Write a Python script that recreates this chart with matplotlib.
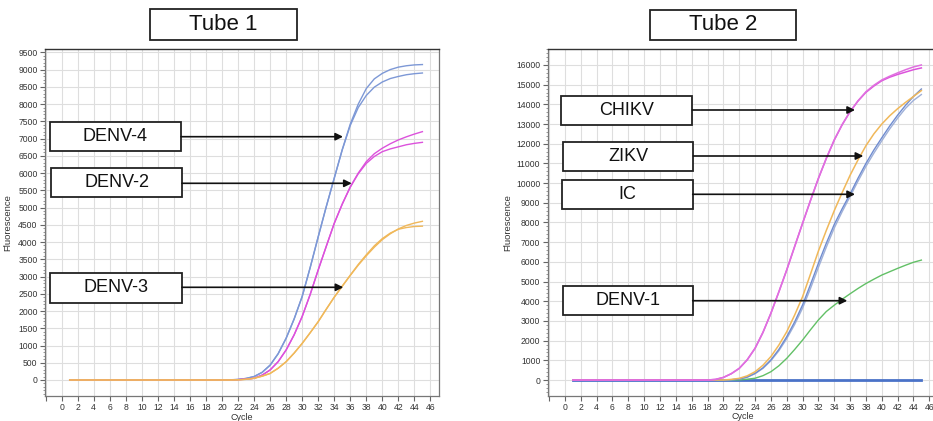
import matplotlib
matplotlib.use("Agg")
import matplotlib.pyplot as plt
from matplotlib.patches import Rectangle, FancyArrowPatch
from matplotlib.ticker import MultipleLocator, FixedLocator, FixedFormatter

plt.rcParams['font.family'] = ['Liberation Sans', 'DejaVu Sans']

cycles = list(range(1, 46))

# ---- Tube 1 ----
denv4_a = [0]*20 + [5, 15, 45, 100, 220, 430, 760, 1210, 1770, 2420, 3260, 4150, 5020, 5850, 6680,
                    7420, 8000, 8450, 8730, 8890, 9000, 9070, 9110, 9135, 9145]
denv4_b = [0]*20 + [5, 15, 45, 100, 220, 430, 760, 1210, 1770, 2420, 3260, 4150, 5020, 5850, 6670,
                    7380, 7900, 8250, 8490, 8640, 8740, 8800, 8850, 8880, 8900]
denv2_a = [0]*20 + [3, 10, 25, 50, 140, 290, 530, 870, 1310, 1840, 2480, 3190, 3870, 4540, 5100,
                    5600, 6000, 6330, 6560, 6720, 6850, 6960, 7050, 7130, 7200]
denv2_b = [0]*20 + [3, 10, 25, 50, 140, 290, 530, 870, 1310, 1840, 2480, 3190, 3870, 4540, 5100,
                    5590, 5980, 6280, 6480, 6620, 6700, 6760, 6820, 6860, 6890]
denv3_a = [0]*21 + [5, 20, 50, 110, 190, 340, 530, 780, 1060, 1370, 1690, 2050, 2400, 2720, 3030,
                    3330, 3600, 3850, 4070, 4240, 4380, 4480, 4550, 4600]
denv3_b = [0]*21 + [5, 20, 50, 110, 190, 340, 530, 780, 1060, 1370, 1690, 2050, 2400, 2720, 3040,
                    3350, 3630, 3890, 4100, 4260, 4370, 4420, 4450, 4460]

# ---- Tube 2 ----
chikv_a = [0]*18 + [30, 130, 320, 590, 1020, 1610, 2420, 3390, 4470, 5590, 6780, 7960, 9120, 10240,
                    11260, 12190, 12970, 13630, 14180, 14640, 14970, 15240, 15430, 15600, 15760, 15900, 16000]
chikv_b = [0]*18 + [30, 130, 320, 590, 1020, 1610, 2420, 3390, 4470, 5590, 6780, 7960, 9120, 10240,
                    11260, 12190, 12970, 13630, 14170, 14610, 14930, 15200, 15380, 15520, 15640, 15760, 15850]
zikv = [0]*20 + [30, 85, 210, 420, 750, 1190, 1770, 2450, 3300, 4230, 5380, 6550, 7600, 8600, 9520,
                 10400, 11180, 11900, 12500, 13000, 13420, 13780, 14100, 14400, 14700]
ic_a = [0]*20 + [15, 50, 150, 340, 620, 1020, 1550, 2200, 2950, 3810, 4850, 5930, 6950, 7900, 8700,
                 9450, 10250, 11000, 11680, 12300, 12900, 13450, 13950, 14400, 14780]
ic_b = [0]*20 + [15, 45, 140, 320, 590, 980, 1480, 2100, 2820, 3650, 4650, 5720, 6750, 7720, 8550,
                 9320, 10100, 10850, 11520, 12150, 12750, 13300, 13800, 14200, 14500]
denv1 = [0]*21 + [10, 40, 90, 220, 420, 720, 1100, 1550, 2030, 2550, 3050, 3480, 3800, 4100, 4380,
                  4650, 4900, 5120, 5330, 5500, 5670, 5830, 5980, 6090]
negative = [0]*45

xtick_vals = list(range(-2, 47, 2))
xtick_labels = [''] + [str(v) for v in range(0, 47, 2)]

BLUE = '#7d98d6'
PINK = '#dc52dc'
YELLOW = '#f0b85a'
GREEN = '#62c066'
BASE = '#4a72c8'

W, H = 933, 421
fig = plt.figure(figsize=(W/100, H/100), dpi=100)

def px_axes(x0, y0, x1, y1):
    return fig.add_axes([x0/W, 1 - y1/H, (x1-x0)/W, (y1-y0)/H])

def style(ax, xlim, ylim, ymajor, yminor):
    ax.set_xlim(*xlim)
    ax.set_ylim(*ylim)
    ax.xaxis.set_major_locator(FixedLocator(xtick_vals))
    ax.xaxis.set_major_formatter(FixedFormatter(xtick_labels))
    ax.yaxis.set_major_locator(MultipleLocator(ymajor))
    ax.yaxis.set_minor_locator(MultipleLocator(yminor))
    ax.grid(True, which='major', color='#dedede', lw=0.8)
    ax.set_axisbelow(True)
    ax.tick_params(which='major', direction='out', length=3.8, width=0.8, color='#666666',
                   labelsize=6.2, labelcolor='#333333', pad=1.5)
    ax.tick_params(which='minor', direction='out', length=1.8, width=0.6, color='#888888')
    ax.tick_params(axis='x', pad=1.2)
    for s in ['left', 'bottom', 'right']:
        ax.spines[s].set_color('#777777')
        ax.spines[s].set_linewidth(0.9)
    ax.spines['top'].set_color('#333333')
    ax.spines['top'].set_linewidth(1.0)
    ax.set_xlabel('Cycle', fontsize=6.5, color='#333333', va='center')
    ax.set_ylabel('Fluorescence', fontsize=6.8, color='#333333')

# Left axes
ax1 = px_axes(45, 49, 439, 396)
style(ax1, (-2.08, 47.07), (-464, 9596), 500, 100)
ax1.xaxis.set_label_coords(0.50, -0.061)
ax1.yaxis.set_label_coords(-0.082, 0.50)
ax1.plot(cycles, denv4_a, color=BLUE, lw=1.0)
ax1.plot(cycles, denv4_b, color=BLUE, lw=1.0)
ax1.plot(cycles, denv2_a, color=PINK, lw=1.0)
ax1.plot(cycles, denv2_b, color=PINK, lw=1.0)
ax1.plot(cycles, denv3_a, color=YELLOW, lw=1.0)
ax1.plot(cycles, denv3_b, color=YELLOW, lw=1.0)

# Right axes
ax2 = px_axes(547.7, 49, 938.8, 395.7)
style(ax2, (-2.18, 47.2), (-797, 16812), 1000, 200)
ax2.xaxis.set_label_coords(0.50, -0.061)
ax2.yaxis.set_label_coords(-0.091, 0.50)
ax2.plot(cycles, negative, color=BASE, lw=2.0)
ax2.plot(cycles, denv1, color=GREEN, lw=1.0)
ax2.plot(cycles, ic_b, color='#9fb0d8', lw=1.0)
ax2.plot(cycles, ic_a, color='#6f8cd0', lw=1.0)
ax2.plot(cycles, zikv, color=YELLOW, lw=1.1)
ax2.plot(cycles, chikv_b, color=PINK, lw=1.1)
ax2.plot(cycles, chikv_a, color='#e070e0', lw=1.1)

def box(x0, y0, x1, y1, text, fs, lw=1.3):
    r = Rectangle((x0/W, 1 - y1/H), (x1-x0)/W, (y1-y0)/H, transform=fig.transFigure,
                  facecolor='white', edgecolor='#222222', lw=lw, zorder=5)
    fig.add_artist(r)
    fig.text((x0+x1)/2/W, 1 - (y0+y1)/2/H, text, ha='center', va='center',
             fontsize=fs, color='#111111', zorder=6)

def arrow(x0, x1, y):
    a = FancyArrowPatch((x0/W, 1 - y/H), (x1/W, 1 - y/H), transform=fig.transFigure,
                        arrowstyle='-|>', mutation_scale=11, lw=1.2, color='#111111',
                        shrinkA=0, shrinkB=0, zorder=6)
    fig.add_artist(a)

# Titles
box(150, 9.5, 297, 40, 'Tube 1', 16)
box(650, 10, 796, 40, 'Tube 2', 16)

# Tube 1 labels
box(50, 121.7, 181, 150.7, 'DENV-4', 13)
arrow(181, 343, 136.7)
box(51, 167.7, 182, 196.7, 'DENV-2', 13)
arrow(182, 351.7, 183.3)
box(50, 273.3, 182, 302.7, 'DENV-3', 13)
arrow(182, 343.3, 287.3)

# Tube 2 labels
box(561.3, 95.7, 692.3, 125, 'CHIKV', 13)
arrow(692.3, 855, 110)
box(562.7, 141.7, 693.3, 171.3, 'ZIKV', 13)
arrow(693.3, 863.3, 156)
box(562, 179.7, 692.7, 209, 'IC', 13)
arrow(692.7, 855, 194.3)
box(562.7, 285.7, 692.7, 315, 'DENV-1', 13)
arrow(692.7, 847.3, 300.7)

fig.savefig('out.png', dpi=100)
